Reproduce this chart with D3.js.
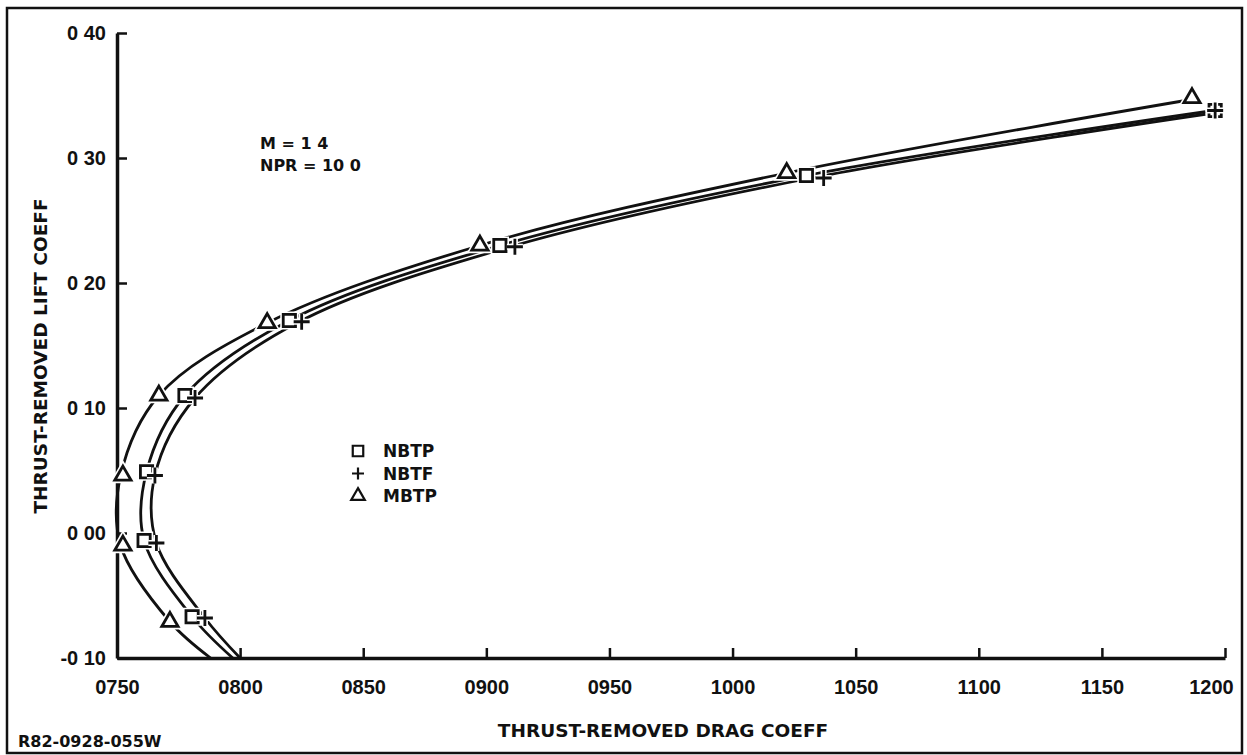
<!DOCTYPE html>
<html>
<head>
<meta charset="utf-8">
<script src="https://cdn.jsdelivr.net/npm/d3@7"></script>
<style>
  body { margin: 0; background: #fff; }
  text { font-family: "DejaVu Sans", "Liberation Sans", Arial, sans-serif; font-weight: bold; fill: #111; }
  .tick text { font-family: "Liberation Sans", Arial, sans-serif; }
</style>
</head>
<body>
<div id="chart"></div>
<script>
// Thrust-removed drag polar, M = 1.4, NPR = 10.0

// Axis ticks (drag in counts, lift as coefficient)
const xTicks = [750, 800, 850, 900, 950, 1000, 1050, 1100, 1150, 1200];
const yTicks = [-0.10, 0.00, 0.10, 0.20, 0.30, 0.40];

// Test points
const nbtpCL = [-0.067, -0.006, 0.049, 0.110, 0.170, 0.230, 0.286, 0.338];
const nbtpCD = [780.5, 761, 762, 777.6, 820, 905.5, 1030, 1196];
const nbtfCL = [-0.068, -0.008, 0.046, 0.108, 0.169, 0.229, 0.284, 0.338];
const nbtfCD = [785.7, 766, 765.4, 781.7, 825, 911.6, 1037, 1196];
const mbtpCL = [-0.071, -0.010, 0.046, 0.110, 0.168, 0.230, 0.288, 0.348];
const mbtpCD = [771.5, 752.4, 752.4, 767, 811, 897.4, 1022, 1186.6];

// Faired curves as drawn on the plot
const nbtpLineCL = [-0.10, -0.067, -0.006, 0.049, 0.110, 0.170, 0.230, 0.286, 0.337];
const nbtpLineCD = [797, 780.5, 761, 762, 777.6, 820, 905.5, 1030, 1192];
const nbtfLineCL = [-0.10, -0.068, -0.008, 0.046, 0.108, 0.168, 0.228, 0.284, 0.335];
const nbtfLineCD = [800, 785.7, 766, 765.4, 781.7, 823, 908, 1032, 1192];
const mbtpLineCL = [-0.10, -0.071, -0.010, 0.046, 0.110, 0.168, 0.230, 0.288, 0.346];
const mbtpLineCD = [788, 771.5, 751.5, 751.5, 767, 811, 897.4, 1022, 1184];

const legendNames = ["NBTP", "NBTF", "MBTP"];

const width = 1247, height = 755;
const margin = { top: 33, right: 22, bottom: 97, left: 117 };
const innerWidth = width - margin.left - margin.right;
const innerHeight = height - margin.top - margin.bottom;

const svg = d3.select("#chart").append("svg")
    .attr("width", width)
    .attr("height", height);

// outer frame
svg.append("rect")
    .attr("x", 7).attr("y", 8)
    .attr("width", 1235).attr("height", 745)
    .attr("fill", "none")
    .attr("stroke", "#111")
    .attr("stroke-width", 2.5);

const g = svg.append("g").attr("transform", `translate(${margin.left},${margin.top})`);

const x = d3.scaleLinear().domain([750, 1200]).range([0, innerWidth]);
const y = d3.scaleLinear().domain([-0.10, 0.40]).range([innerHeight, 0]);

// axes - ticks point inward
const xAxis = g.append("g")
    .attr("transform", `translate(0,${innerHeight})`)
    .call(d3.axisBottom(x).tickValues(xTicks).tickFormat(d3.format("04d"))
        .tickSizeInner(-10).tickSizeOuter(0).tickPadding(22));
xAxis.selectAll("text").style("font-size", "20px").attr("fill", "#111");
xAxis.selectAll("text").filter(d => d === 1200).attr("dx", -14);

const yAxis = g.append("g")
    .call(d3.axisLeft(y).tickValues(yTicks)
        .tickFormat(d => d3.format(".2f")(d).replace("\u2212", "-").replace(".", " "))
        .tickSizeInner(-10).tickSizeOuter(0).tickPadding(11));
yAxis.selectAll("text").style("font-size", "20px").attr("fill", "#111");

[xAxis, yAxis].forEach(a => {
    a.select(".domain").attr("stroke", "#111").attr("stroke-width", 3.5);
    a.selectAll(".tick line").attr("stroke", "#111").attr("stroke-width", 2.5);
});

// faired curves (drag as a function of lift)
const line = d3.line()
    .x(d => x(d[1]))
    .y(d => y(d[0]))
    .curve(d3.curveCatmullRom.alpha(0.5));

const curves = [
    [mbtpLineCL, mbtpLineCD],
    [nbtpLineCL, nbtpLineCD],
    [nbtfLineCL, nbtfLineCD]
];
curves.forEach(([cl, cd]) => {
    g.append("path")
        .datum(cl.map((v, i) => [v, cd[i]]))
        .attr("d", line)
        .attr("fill", "none")
        .attr("stroke", "#111")
        .attr("stroke-width", 2.8);
});

// marker shapes
const squarePath = d3.symbol().type(d3.symbolSquare).size(150)();
const trianglePath = d3.symbol().type(d3.symbolTriangle).size(115)();
const plusPath = "M-8,0H8M0,-8V8";

function drawMarkers(cl, cd, path, fill) {
    const pts = cl.map((v, i) => [v, cd[i]]);
    const grp = g.append("g");
    // white halo so the curves break at the symbols
    grp.selectAll(".halo").data(pts).enter().append("path")
        .attr("d", path)
        .attr("transform", d => `translate(${x(d[1])},${y(d[0])})`)
        .attr("fill", fill ? "#fff" : "none")
        .attr("stroke", "#fff")
        .attr("stroke-width", 6);
    grp.selectAll(".mark").data(pts).enter().append("path")
        .attr("d", path)
        .attr("transform", d => `translate(${x(d[1])},${y(d[0])})`)
        .attr("fill", fill ? "#fff" : "none")
        .attr("stroke", "#111")
        .attr("stroke-width", 2.8);
}
drawMarkers(mbtpCL, mbtpCD, trianglePath, true);
drawMarkers(nbtpCL, nbtpCD, squarePath, true);
drawMarkers(nbtfCL, nbtfCD, plusPath, false);

// condition note
svg.append("text").attr("x", 260).attr("y", 149).style("font-size", "16px").text("M = 1 4");
svg.append("text").attr("x", 260).attr("y", 171).style("font-size", "16px").text("NPR = 10 0");

// legend
const legendPaths = [
    d3.symbol().type(d3.symbolSquare).size(110)(),
    "M-6,0H6M0,-6V6",
    d3.symbol().type(d3.symbolTriangle).size(80)()
];
legendNames.forEach((name, i) => {
    const ly = 451 + i * 22.5;
    svg.append("path")
        .attr("d", legendPaths[i])
        .attr("transform", `translate(358,${ly})`)
        .attr("fill", i === 1 ? "none" : "#fff")
        .attr("stroke", "#111")
        .attr("stroke-width", 2.2);
    svg.append("text")
        .attr("x", 383).attr("y", ly)
        .attr("dy", "0.36em")
        .style("font-size", "17px")
        .text(name);
});

// axis titles
svg.append("text")
    .attr("x", 663).attr("y", 737)
    .attr("text-anchor", "middle")
    .style("font-size", "18.5px")
    .text("THRUST-REMOVED DRAG COEFF");

svg.append("text")
    .attr("transform", "translate(47,356) rotate(-90)")
    .attr("text-anchor", "middle")
    .style("font-size", "18.5px")
    .text("THRUST-REMOVED LIFT COEFF");

// report number
svg.append("text")
    .attr("x", 18).attr("y", 747)
    .style("font-size", "16px")
    .text("R82-0928-055W");
</script>
</body>
</html>
